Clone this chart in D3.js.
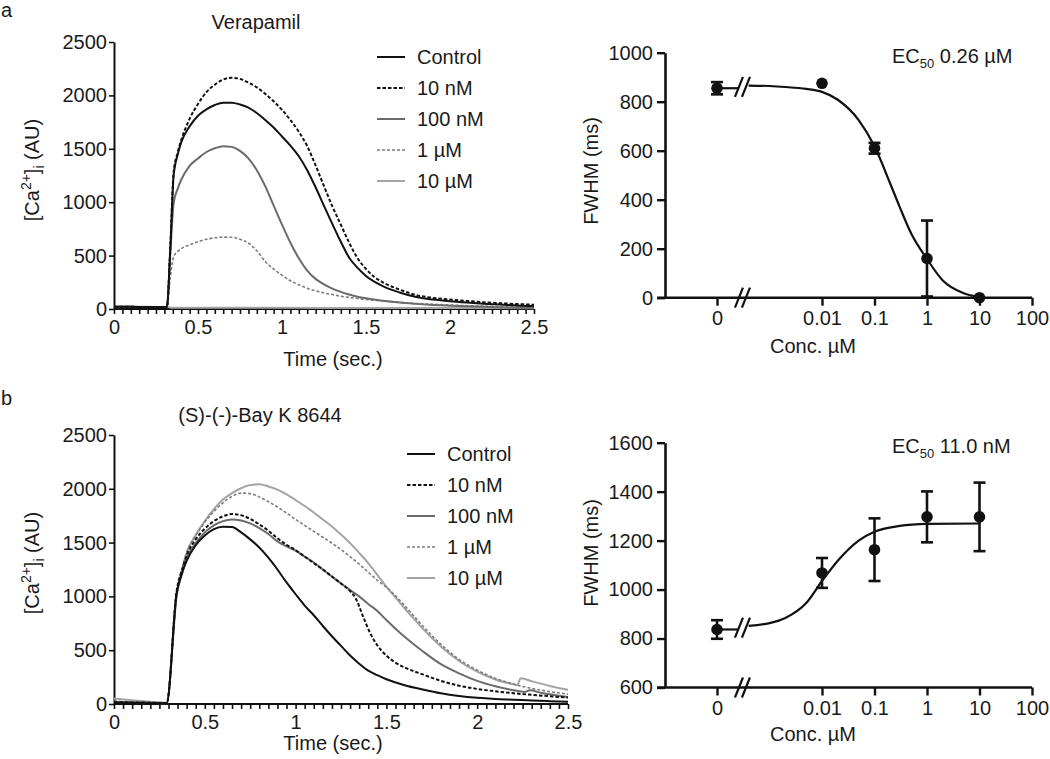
<!DOCTYPE html>
<html><head><meta charset="utf-8">
<script src="https://cdn.jsdelivr.net/npm/d3@7"></script>
<style>
body{margin:0;background:#fff;}
svg text{font-family:"Liberation Sans",Arial,Helvetica,sans-serif;fill:#1a1a1a;}
</style></head>
<body><svg id="c" width="1050" height="759"></svg>
<script>
// ---------------- DATA ----------------
const seriesNames = ["Control", "10 nM", "100 nM", "1 µM", "10 µM"];
const traceXTicks = [0, 0.5, 1, 1.5, 2, 2.5];
const traceXTickLabels = ["0", "0.5", "1", "1.5", "2", "2.5"];
const traceYTicks = [0, 500, 1000, 1500, 2000, 2500];

// Verapamil traces: [time (s), [Ca2+]i (AU)]
const verControl = [[0,20],[0.1,20],[0.2,19],[0.315,19],[0.335,560],[0.355,1250],[0.38,1450],[0.4,1560],[0.45,1710],[0.5,1810],[0.55,1870],[0.6,1910],[0.65,1932],[0.7,1932],[0.75,1915],[0.8,1885],[0.85,1835],[0.9,1770],[0.95,1700],[1.0,1615],[1.05,1530],[1.1,1430],[1.15,1300],[1.2,1140],[1.25,965],[1.3,795],[1.35,630],[1.4,480],[1.45,385],[1.5,310],[1.6,215],[1.7,155],[1.8,112],[1.9,88],[2.0,72],[2.1,60],[2.2,50],[2.3,42],[2.4,33],[2.5,27]];
const ver10nM = [[0,20],[0.1,20],[0.2,19],[0.315,19],[0.335,580],[0.355,1280],[0.38,1470],[0.4,1580],[0.45,1780],[0.5,1920],[0.55,2030],[0.6,2100],[0.65,2148],[0.7,2165],[0.75,2155],[0.8,2120],[0.85,2075],[0.9,2015],[0.95,1945],[1.0,1865],[1.05,1770],[1.1,1660],[1.15,1525],[1.2,1345],[1.25,1150],[1.3,960],[1.35,790],[1.4,620],[1.45,475],[1.5,375],[1.55,300],[1.6,250],[1.7,182],[1.8,130],[1.9,104],[2.0,88],[2.1,75],[2.2,63],[2.3,54],[2.4,46],[2.5,40]];
const ver100nM = [[0,20],[0.1,20],[0.2,19],[0.315,19],[0.335,520],[0.355,990],[0.38,1130],[0.4,1210],[0.45,1340],[0.5,1410],[0.55,1470],[0.6,1505],[0.65,1525],[0.7,1518],[0.75,1480],[0.8,1410],[0.85,1300],[0.9,1150],[0.95,970],[1.0,790],[1.05,620],[1.1,475],[1.15,360],[1.2,282],[1.25,230],[1.3,190],[1.35,160],[1.4,135],[1.45,115],[1.5,100],[1.6,78],[1.7,60],[1.8,48],[1.9,38],[2.0,31],[2.1,25],[2.2,20],[2.3,16],[2.4,12],[2.5,10]];
const ver1uM = [[0,20],[0.1,20],[0.2,19],[0.315,19],[0.335,300],[0.355,490],[0.38,540],[0.4,565],[0.45,600],[0.5,630],[0.55,653],[0.6,667],[0.65,673],[0.7,672],[0.75,652],[0.8,618],[0.85,545],[0.9,445],[0.95,375],[1.0,315],[1.05,265],[1.1,228],[1.15,195],[1.2,170],[1.25,150],[1.3,135],[1.35,120],[1.4,108],[1.45,98],[1.5,90],[1.6,75],[1.7,62],[1.8,52],[1.9,44],[2.0,37],[2.1,31],[2.2,27],[2.3,22],[2.4,19],[2.5,16]];
const ver10uM = [[0,22],[0.1,21],[0.2,20],[0.315,19],[0.34,12],[0.5,12],[1.0,11],[1.5,10],[2.0,9],[2.5,8]];

// (S)-(-)-Bay K 8644 traces
const bayControl = [[0,12],[0.1,10],[0.2,8],[0.29,6],[0.345,1030],[0.375,1220],[0.4,1330],[0.45,1475],[0.5,1565],[0.55,1625],[0.6,1648],[0.65,1645],[0.7,1595],[0.75,1530],[0.8,1455],[0.85,1360],[0.9,1250],[0.95,1130],[1.0,1020],[1.05,915],[1.1,825],[1.15,725],[1.2,630],[1.25,540],[1.3,450],[1.35,375],[1.4,310],[1.45,268],[1.5,230],[1.6,175],[1.7,135],[1.8,100],[1.9,75],[2.0,58],[2.1,47],[2.2,40],[2.3,32],[2.4,26],[2.5,20]];
const bay10nM = [[0,18],[0.1,15],[0.2,12],[0.29,8],[0.345,1050],[0.375,1250],[0.4,1380],[0.45,1530],[0.5,1630],[0.55,1700],[0.6,1745],[0.65,1765],[0.7,1755],[0.75,1720],[0.8,1670],[0.85,1610],[0.9,1540],[0.95,1480],[1.0,1430],[1.05,1370],[1.1,1310],[1.15,1250],[1.2,1185],[1.25,1120],[1.3,1050],[1.33,985],[1.37,820],[1.41,660],[1.45,545],[1.5,450],[1.55,385],[1.6,340],[1.7,275],[1.8,215],[1.9,170],[2.0,140],[2.1,118],[2.2,100],[2.3,85],[2.4,72],[2.5,60]];
const bay100nM = [[0,20],[0.1,16],[0.2,12],[0.29,8],[0.345,1020],[0.375,1210],[0.4,1350],[0.45,1495],[0.5,1595],[0.55,1660],[0.6,1700],[0.65,1715],[0.7,1705],[0.75,1678],[0.8,1635],[0.85,1580],[0.9,1512],[0.95,1465],[1.0,1425],[1.05,1370],[1.1,1315],[1.15,1250],[1.2,1185],[1.25,1120],[1.3,1060],[1.35,1000],[1.4,930],[1.45,865],[1.5,780],[1.55,700],[1.6,625],[1.7,490],[1.8,370],[1.9,285],[2.0,215],[2.1,165],[2.2,128],[2.26,112],[2.29,128],[2.35,105],[2.4,90],[2.5,65]];
const bay1uM = [[0,25],[0.1,20],[0.2,15],[0.29,10],[0.345,1050],[0.375,1260],[0.4,1410],[0.45,1565],[0.5,1690],[0.55,1790],[0.6,1870],[0.65,1930],[0.7,1960],[0.75,1955],[0.8,1925],[0.85,1880],[0.9,1830],[0.95,1775],[1.0,1715],[1.05,1660],[1.1,1605],[1.15,1550],[1.2,1495],[1.25,1435],[1.3,1370],[1.35,1300],[1.4,1225],[1.45,1150],[1.5,1085],[1.55,1005],[1.6,915],[1.65,820],[1.7,725],[1.8,555],[1.9,415],[2.0,315],[2.1,238],[2.2,185],[2.3,145],[2.4,115],[2.5,92]];
const bay10uM = [[0,50],[0.1,35],[0.2,22],[0.29,12],[0.345,1000],[0.375,1240],[0.4,1400],[0.45,1570],[0.5,1700],[0.55,1810],[0.6,1900],[0.65,1960],[0.7,2005],[0.75,2035],[0.8,2042],[0.85,2022],[0.9,1992],[0.95,1948],[1.0,1895],[1.05,1840],[1.1,1780],[1.15,1715],[1.2,1650],[1.25,1575],[1.3,1495],[1.35,1405],[1.4,1310],[1.45,1200],[1.5,1090],[1.55,990],[1.6,890],[1.65,795],[1.7,700],[1.8,535],[1.9,400],[2.0,300],[2.1,228],[2.2,183],[2.22,175],[2.24,240],[2.3,212],[2.4,168],[2.5,132]];

// Dose-response (FWHM, ms)
const concLabels = ["0", "0.01", "0.1", "1", "10", "100"];
const concTicks = [0, 0.01, 0.1, 1, 10, 100];
const verConc = [0, 0.01, 0.1, 1, 10];
const verMean = [855, 875, 610, 160, 0];
const verErr = [25, 0, 22, 155, 0];
const verFit = [[0.0004,866],[0.001,864],[0.002,860],[0.005,852],[0.01,840],[0.02,808],[0.05,725],[0.1,618],[0.2,465],[0.3,372],[0.5,262],[1,158],[2,70],[5,18],[10,3]];
const verYTicks = [0, 200, 400, 600, 800, 1000];
const verEC50 = "0.26 µM";

const bayConc = [0, 0.01, 0.1, 1, 10];
const bayMean = [837, 1068, 1163, 1297, 1297];
const bayErr = [38, 61, 128, 104, 140];
const bayFit = [[0.0004,852],[0.001,863],[0.002,884],[0.005,945],[0.01,1035],[0.02,1118],[0.05,1200],[0.1,1236],[0.3,1260],[1,1268],[10,1270]];
const bayYTicks = [600, 800, 1000, 1200, 1400, 1600];
const bayEC50 = "11.0 nM";

// ---------------- DRAWING ----------------
const svg = d3.select("#c");
const FS = 20;
const fmtInt = d3.format("d");
const styles = [
  {stroke:"#111", w:2, dash:null},
  {stroke:"#111", w:2, dash:"3.5,2"},
  {stroke:"#6b6b6b", w:2, dash:null},
  {stroke:"#7c7c7c", w:1.6, dash:"3,2"},
  {stroke:"#a4a4a4", w:2, dash:null}
];

function tracePanel(o) {
  const g = svg.append("g");
  const x = d3.scaleLinear().domain([0, 2.5]).range(o.xr);
  const y = d3.scaleLinear().domain([0, 2500]).range(o.yr);
  const minor = d3.range(0, 51).map(i => i / 20);
  const xa = g.append("g").attr("transform", `translate(0,${y(0)})`)
    .call(d3.axisBottom(x).tickValues(minor).tickSize(5).tickPadding(o.xPad)
      .tickFormat(d => { const k = traceXTicks.findIndex(t => Math.abs(t - d) < 1e-6); return k >= 0 ? traceXTickLabels[k] : ""; }));
  const ya = g.append("g").attr("transform", `translate(${x(0)},0)`)
    .call(d3.axisLeft(y).tickValues(traceYTicks).tickFormat(fmtInt).tickSize(5).tickPadding(2).tickSizeOuter(0));
  [xa, ya].forEach(a => {
    a.select(".domain").attr("stroke", "#111").attr("stroke-width", 2);
    a.selectAll(".tick line").attr("stroke", "#111").attr("stroke-width", 1.6);
    a.selectAll("text").attr("font-size", FS).attr("fill", "#1a1a1a");
  });
  xa.select(".domain").attr("d", `M${x(0)},0H${x(2.5)}`);
  const line = d3.line().x(d => x(d[0])).y(d => y(d[1])).curve(d3.curveMonotoneX);
  for (let i = o.series.length - 1; i >= 0; i--) {
    const s = styles[i];
    g.append("path").attr("d", line(o.series[i])).attr("fill", "none")
      .attr("stroke", s.stroke).attr("stroke-width", s.w)
      .attr("stroke-dasharray", s.dash).attr("stroke-linejoin", "round");
  }
  seriesNames.forEach((n, i) => {
    const s = styles[i], ly = o.legY + i * 31;
    g.append("line").attr("x1", o.legX).attr("x2", o.legX + 28).attr("y1", ly).attr("y2", ly)
      .attr("stroke", s.stroke).attr("stroke-width", s.w).attr("stroke-dasharray", s.dash);
    g.append("text").attr("x", o.legX + 40).attr("y", ly).attr("dy", "0.36em").attr("font-size", FS).text(n);
  });
  g.append("text").attr("x", o.titleX).attr("y", o.titleY).attr("text-anchor", "middle").attr("font-size", FS).text(o.title);
  g.append("text").attr("x", 333).attr("y", o.xLabY).attr("text-anchor", "middle").attr("font-size", FS).text("Time (sec.)");
  const yl = g.append("text").attr("transform", `translate(39,${o.yLabC}) rotate(-90)`).attr("text-anchor", "middle").attr("font-size", FS);
  yl.append("tspan").text("[Ca");
  yl.append("tspan").attr("font-size", 14).attr("dy", -8).text("2+");
  yl.append("tspan").attr("dy", 8).text("]");
  yl.append("tspan").attr("font-size", 14).attr("dy", 5).text("i");
  yl.append("tspan").attr("dy", -5).text(" (AU)");
  g.append("text").attr("x", 1).attr("y", o.letterY).attr("font-size", 20).text(o.letter);
}

function dosePanel(o) {
  const g = svg.append("g");
  const x = d3.scaleLog().domain([1e-4, 100]).range([717, 1032]);
  const y = d3.scaleLinear().domain(o.yDom).range(o.yr);
  const zeroPos = 1e-4;          // log-axis stand-in for conc 0
  const cx = c => x(c === 0 ? zeroPos : c);
  const axisX = 665;
  const xa = g.append("g").attr("transform", `translate(0,${o.yr[0]})`)
    .call(d3.axisBottom(x).tickValues(concTicks.map(c => c === 0 ? zeroPos : c)).tickSize(8).tickPadding(5)
      .tickFormat((d, i) => concLabels[i]));
  xa.select(".domain").remove();
  g.append("line").attr("x1", axisX - 8).attr("x2", x(100)).attr("y1", o.yr[0]).attr("y2", o.yr[0])
    .attr("stroke", "#111").attr("stroke-width", 2.6);
  const ya = g.append("g").attr("transform", `translate(${axisX},0)`)
    .call(d3.axisLeft(y).tickValues(o.yTicks).tickFormat(fmtInt).tickSize(8).tickPadding(4).tickSizeOuter(0));
  [xa, ya].forEach(a => {
    a.select(".domain").attr("stroke", "#111").attr("stroke-width", 2.6);
    a.selectAll(".tick line").attr("stroke", "#111").attr("stroke-width", 2.4);
    a.selectAll("text").attr("font-size", FS).attr("fill", "#1a1a1a");
  });
  const bL = 2.62e-4, bR = 3.56e-4;
  const slash = (px, py) => {
    g.append("line").attr("x1", px - 4).attr("x2", px + 4).attr("y1", py + 10).attr("y2", py - 10)
      .attr("stroke", "#111").attr("stroke-width", 2.2);
  };
  g.append("line").attr("x1", cx(0)).attr("x2", x(bL)).attr("y1", y(o.mean[0])).attr("y2", y(o.mean[0]))
    .attr("stroke", "#111").attr("stroke-width", 2.2);
  const line = d3.line().x(d => x(d[0])).y(d => y(d[1])).curve(d3.curveMonotoneX);
  g.append("path").attr("d", line(o.fit)).attr("fill", "none").attr("stroke", "#111").attr("stroke-width", 2.2);
  const midY = (y(o.mean[0]) + y(o.fit[0][1])) / 2;
  [bL, bR].forEach(b => { slash(x(b), midY); slash(x(b), o.yr[0]); });
  o.conc.forEach((c, i) => {
    if (o.err[i] <= 0) return;
    const px = cx(c), lo = Math.max(o.yDom[0], o.mean[i] - o.err[i]), hi = o.mean[i] + o.err[i];
    g.append("line").attr("x1", px).attr("x2", px).attr("y1", y(lo)).attr("y2", y(hi)).attr("stroke", "#111").attr("stroke-width", 2.6);
    [lo, hi].forEach(v => g.append("line").attr("x1", px - 6).attr("x2", px + 6).attr("y1", y(v)).attr("y2", y(v))
      .attr("stroke", "#111").attr("stroke-width", 2.6));
  });
  g.selectAll("circle.pt").data(o.conc).join("circle").attr("class", "pt")
    .attr("cx", d => cx(d)).attr("cy", (d, i) => y(o.mean[i])).attr("r", 5.8).attr("fill", "#111");
  const ec = g.append("text").attr("x", 892).attr("y", o.ecY).attr("font-size", FS);
  ec.append("tspan").text("EC");
  ec.append("tspan").attr("font-size", 13).attr("dy", 5).text("50");
  ec.append("tspan").attr("dy", -5).text(" " + o.ec);
  g.append("text").attr("x", 813).attr("y", o.xLabY).attr("text-anchor", "middle").attr("font-size", FS).text("Conc. µM");
  g.append("text").attr("transform", `translate(598,${o.yLabC}) rotate(-90)`).attr("text-anchor", "middle")
    .attr("font-size", FS).text("FWHM (ms)");
}

tracePanel({xr:[114, 534], yr:[309, 42], xPad:6,
  series:[verControl, ver10nM, ver100nM, ver1uM, ver10uM],
  legX:377, legY:57, title:"Verapamil", titleX:256, titleY:29, xLabY:366, yLabC:170, letter:"a", letterY:17});
tracePanel({xr:[114, 568], yr:[704, 435], xPad:6,
  series:[bayControl, bay10nM, bay100nM, bay1uM, bay10uM],
  legX:407, legY:454, title:"(S)-(-)-Bay K 8644", titleX:260, titleY:422, xLabY:750, yLabC:563, letter:"b", letterY:405});

dosePanel({yDom:[0, 1000], yr:[297.7, 52.7], yTicks:verYTicks, conc:verConc, mean:verMean, err:verErr, fit:verFit,
  ec:verEC50, ecY:63, xLabY:353, yLabC:171});
dosePanel({yDom:[600, 1600], yr:[687.5, 442.7], yTicks:bayYTicks, conc:bayConc, mean:bayMean, err:bayErr, fit:bayFit,
  ec:bayEC50, ecY:453, xLabY:741, yLabC:553});
</script>
</body></html>
